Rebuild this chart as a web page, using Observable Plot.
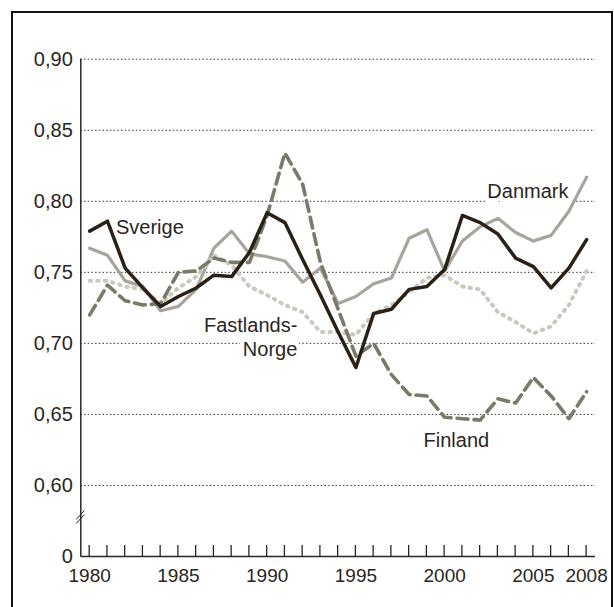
<!DOCTYPE html>
<html><head><meta charset="utf-8">
<script src="https://cdn.jsdelivr.net/npm/d3@7"></script>
<script src="https://cdn.jsdelivr.net/npm/@observablehq/plot@0.6"></script>
<style>
html,body{margin:0;padding:0;background:#fff;}
#wrap{position:relative;width:614px;height:607px;overflow:hidden;}
#frame{position:absolute;left:11px;top:11px;width:598px;height:640px;border:2px solid #111;}
#chart{position:absolute;left:0;top:0;}
</style></head><body>
<div id="wrap"><div id="frame"></div><div id="chart"></div></div>
<script>
const years = [1980,1981,1982,1983,1984,1985,1986,1987,1988,1989,1990,1991,1992,1993,1994,1995,1996,1997,1998,1999,2000,2001,2002,2003,2004,2005,2006,2007,2008];
const sverige = [0.779,0.786,0.753,0.739,0.726,0.733,0.739,0.748,0.747,0.764,0.792,0.785,0.759,0.734,0.708,0.683,0.721,0.724,0.738,0.740,0.752,0.790,0.785,0.777,0.760,0.754,0.739,0.753,0.773];
const danmark = [0.767,0.762,0.744,0.740,0.723,0.726,0.738,0.767,0.779,0.763,0.761,0.758,0.743,0.753,0.728,0.733,0.742,0.746,0.774,0.780,0.751,0.772,0.782,0.788,0.778,0.772,0.776,0.793,0.817];
const finland = [0.720,0.741,0.730,0.727,0.728,0.750,0.751,0.760,0.757,0.757,0.790,0.834,0.812,0.757,0.724,0.691,0.700,0.678,0.664,0.663,0.648,0.647,0.646,0.661,0.658,0.676,0.663,0.647,0.666];
const norge = [0.744,0.744,0.740,0.738,0.728,0.739,0.747,0.762,0.755,0.740,0.734,0.727,0.722,0.708,0.708,0.706,0.721,0.727,0.736,0.746,0.748,0.740,0.738,0.722,0.715,0.707,0.712,0.727,0.751];
const xTickLabels = [1980,1985,1990,1995,2000,2005,2008];
const yGrid = [0.60,0.65,0.70,0.75,0.80,0.85,0.90];
// broken axis: the bottom of the y axis (drawn at 0.55) stands for 0
const yZero = 0.55;
const yTickLabels = [yZero,0.60,0.65,0.70,0.75,0.80,0.85,0.90];
const labels = [
  {name:"Sverige", year:1981.48, value:0.7827, anchor:"start"},
  {name:"Danmark", year:2004.69, value:0.8075, anchor:"middle"},
  {name:"Finland", year:2000.66, value:0.6325, anchor:"middle"},
  {name:"Fastlands-\nNorge", year:1991.70, value:0.7048, anchor:"end"}
];

const toRows = (vals) => years.map((y,i)=>({year:y, value:vals[i]}));
const ink = "#2b2620";

function yearTicks(index, scales) {
  const sx = typeof scales.x === "function" ? scales.x : scales.x.apply;
  const sy = typeof scales.y === "function" ? scales.y : scales.y.apply;
  const g = d3.create("svg:g").attr("stroke", ink).attr("stroke-width", 1.3);
  const y0 = sy(yZero);
  for (const yr of years) {
    const x = sx(yr);
    g.append("line").attr("x1", x).attr("x2", x).attr("y1", y0).attr("y2", y0 - 11);
  }
  // axis break mark
  const ax = sx(1979.5);
  const ym = (sy(yZero) + sy(0.6)) / 2 - 3;
  g.append("line").attr("x1", ax - 4).attr("y1", ym + 2).attr("x2", ax + 4).attr("y2", ym - 7).attr("stroke-width", 1);
  g.append("line").attr("x1", ax - 4).attr("y1", ym + 6).attr("x2", ax + 4).attr("y2", ym - 3).attr("stroke-width", 1);
  return g.node();
}

const labelMark = (anchor) => Plot.text(labels.filter(d => d.anchor === anchor), {
  x: "year", y: "value", text: "name", textAnchor: anchor, fontSize: 20, fill: ink,
  stroke: "white", strokeWidth: 9, lineHeight: 1.2
});

const chart = Plot.plot({
  width: 614,
  height: 607,
  marginLeft: 80.3,
  marginRight: 19,
  marginTop: 58.7,
  marginBottom: 51,
  style: {background: "transparent", fontFamily: "'Liberation Sans', Arial, sans-serif", fontSize: "19px", color: ink},
  x: {domain: [1979.5, 2008.5]},
  y: {domain: [yZero, 0.9]},
  marks: [
    Plot.ruleY(yGrid, {stroke: "#333", strokeWidth: 1, strokeDasharray: "1.5,2.2"}),
    Plot.ruleY([yZero], {stroke: ink, strokeWidth: 1.5}),
    Plot.ruleX([1979.5], {y1: yZero, y2: 0.9, stroke: ink, strokeWidth: 1.5}),
    yearTicks,
    Plot.axisX({ticks: xTickLabels, tickSize: 0, tickPadding: 12, tickFormat: d => String(d), fontSize: 19, label: null, fill: ink}),
    Plot.axisY({ticks: yTickLabels, tickSize: 0, tickPadding: 8, tickFormat: d => d === yZero ? "0" : d.toFixed(2).replace(".", ","), fontSize: 20, label: null, fill: ink}),
    labelMark("start"),
    labelMark("middle"),
    labelMark("end"),
    Plot.line(toRows(danmark), {x: "year", y: "value", stroke: "#a6a49b", strokeWidth: 3.2}),
    Plot.line(toRows(norge), {x: "year", y: "value", stroke: "#c9c9bd", strokeWidth: 4, strokeDasharray: "1.5,6", strokeLinecap: "round"}),
    Plot.line(toRows(finland), {x: "year", y: "value", stroke: "#797a69", strokeWidth: 3.6, strokeDasharray: "11,6"}),
    Plot.line(toRows(sverige), {x: "year", y: "value", stroke: "#2a2016", strokeWidth: 3.5})
  ]
});
document.getElementById("chart").appendChild(chart);
</script>
</body></html>
